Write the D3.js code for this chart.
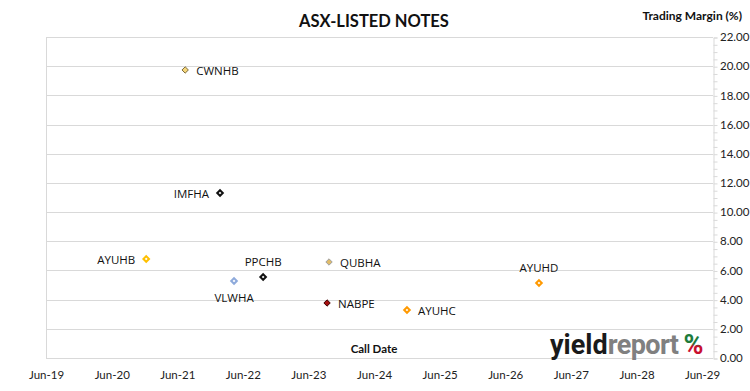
<!DOCTYPE html>
<html>
<head>
<meta charset="utf-8">
<script src="https://cdn.jsdelivr.net/npm/d3@7"></script>
<style>
  body { margin: 0; background: #fff; }
  svg { display: block; }
</style>
</head>
<body>
<div id="chart"></div>
<script>
// data
const notes = ["CWNHB", "IMFHA", "AYUHB", "VLWHA", "PPCHB", "QUBHA", "NABPE", "AYUHC", "AYUHD"];
const callDates = ["2021-07-15", "2022-01-25", "2020-12-10", "2022-04-13", "2022-09-22", "2023-09-24", "2023-09-13", "2024-12-01", "2026-12-06"];
const margins = [19.74, 11.31, 6.79, 5.28, 5.55, 6.58, 3.77, 3.29, 5.14];
const yTickValues = [0, 2, 4, 6, 8, 10, 12, 14, 16, 18, 20, 22];
const xTickDates = ["2019-06-01", "2020-06-01", "2021-06-01", "2022-06-01", "2023-06-01", "2024-06-01",
                    "2025-06-01", "2026-06-01", "2027-06-01", "2028-06-01", "2029-06-01"];

function chart() {
    const width = 750;
    const height = 391;
    const font = "Lato, 'Open Sans', sans-serif";
    const grid = "#d9d9d9";

    // marker style per note
    const markerStyle = {
        CWNHB: { fill: "#f6d67a", stroke: "#7a6a3a", w: 1, size: 26 },
        IMFHA: { fill: "#fff", stroke: "#111", w: 2, size: 20 },
        AYUHB: { fill: "#fff", stroke: "#ffc000", w: 2, size: 20 },
        VLWHA: { fill: "#fff", stroke: "#8eaadb", w: 2, size: 20 },
        PPCHB: { fill: "#fff", stroke: "#111", w: 2, size: 20 },
        QUBHA: { fill: "#e0bc6a", stroke: "#a0a0a0", w: 1, size: 26 },
        NABPE: { fill: "#a50f0f", stroke: "#3a0000", w: 1, size: 26 },
        AYUHC: { fill: "#fff", stroke: "#ff9900", w: 2, size: 20 },
        AYUHD: { fill: "#fff", stroke: "#ff9900", w: 2, size: 20 }
    };
    // where each label sits relative to its marker
    const labelPos = {
        CWNHB: "right", IMFHA: "left", AYUHB: "left", VLWHA: "below", PPCHB: "above",
        QUBHA: "right", NABPE: "right", AYUHC: "right", AYUHD: "above"
    };

    const data = notes.map((n, i) => ({ name: n, date: new Date(callDates[i]), value: margins[i] }));

    const plot = { left: 46, right: 713, top: 37, bottom: 358 };

    const svg = d3.select("#chart")
        .append("svg")
        .attr("width", width)
        .attr("height", height)
        .attr("viewBox", `0 0 ${width} ${height}`)
        .style("font-family", font);

    const x = d3.scaleTime()
        .domain([new Date(2019, 5, 1), new Date(2029, 7, 1)])
        .range([plot.left, plot.right]);

    const y = d3.scaleLinear()
        .domain([0, 22])
        .range([plot.bottom, plot.top]);

    // gridlines
    svg.append("g")
        .selectAll("line")
        .data(yTickValues)
        .join("line")
            .attr("x1", plot.left)
            .attr("x2", plot.right)
            .attr("y1", d => Math.round(y(d)) + 0.5)
            .attr("y2", d => Math.round(y(d)) + 0.5)
            .attr("stroke", grid);

    svg.append("line")
        .attr("x1", plot.left + 0.5).attr("x2", plot.left + 0.5)
        .attr("y1", plot.top).attr("y2", plot.bottom)
        .attr("stroke", grid);

    // right axis, minor ticks
    const minor = svg.append("g")
        .attr("transform", `translate(${plot.right + 0.5},0.5)`)
        .call(d3.axisRight(y).ticks(44).tickSize(4).tickFormat(""));
    minor.select(".domain").attr("stroke", grid);
    minor.selectAll(".tick line").attr("stroke", grid);

    const yAxis = svg.append("g")
        .attr("transform", `translate(${plot.right},0)`)
        .call(d3.axisRight(y).tickValues(yTickValues).tickSize(0).tickPadding(7).tickFormat(d3.format(".2f")));
    yAxis.select(".domain").remove();
    yAxis.selectAll("text")
        .style("font-family", font)
        .style("font-size", "11.5px")
        .attr("fill", "#222");

    // bottom axis labels
    const xAxis = svg.append("g")
        .attr("transform", `translate(0,${plot.bottom})`)
        .call(d3.axisBottom(x).tickValues(xTickDates.map(d => new Date(d + "T00:00:00")))
            .tickSize(0).tickPadding(13).tickFormat(d3.timeFormat("%b-%y")));
    xAxis.select(".domain").remove();
    xAxis.selectAll("text")
        .style("font-family", font)
        .style("font-size", "11.5px")
        .attr("fill", "#222");

    // title & axis titles
    svg.append("text")
        .attr("x", 374).attr("y", 27)
        .attr("text-anchor", "middle")
        .style("font-size", "16.5px").style("font-weight", 700)
        .attr("fill", "#111")
        .text("ASX-LISTED NOTES");

    svg.append("text")
        .attr("x", 742).attr("y", 20)
        .attr("text-anchor", "end")
        .style("font-size", "12px").style("font-weight", 700)
        .attr("fill", "#111")
        .text("Trading Margin (%)");

    svg.append("text")
        .attr("x", 374).attr("y", 353)
        .attr("text-anchor", "middle")
        .style("font-size", "11.5px").style("font-weight", 700)
        .attr("fill", "#111")
        .text("Call Date");

    // logo
    const defs = svg.append("defs");
    const grad = defs.append("linearGradient")
        .attr("id", "pct").attr("x1", 0).attr("x2", 0).attr("y1", 0).attr("y2", 1);
    grad.append("stop").attr("offset", "0%").attr("stop-color", "#1f7a3a");
    grad.append("stop").attr("offset", "45%").attr("stop-color", "#1f7a3a");
    grad.append("stop").attr("offset", "55%").attr("stop-color", "#c8102e");
    grad.append("stop").attr("offset", "100%").attr("stop-color", "#c8102e");

    const logo = svg.append("text")
        .attr("x", 550).attr("y", 354)
        .style("font-family", "'Liberation Sans Narrow', 'Roboto', sans-serif")
        .style("font-size", "27px").style("font-weight", 700);
    logo.append("tspan").attr("fill", "#1a1a1a").text("yield");
    logo.append("tspan").attr("fill", "#808080").style("letter-spacing", "-0.6px").text("report");
    logo.append("tspan").attr("fill", "url(#pct)").attr("dx", 5).text("%");

    // markers
    const gNotes = svg.selectAll(".note")
        .data(data)
        .join("g")
            .attr("class", "note")
            .attr("transform", d => `translate(${x(d.date)},${y(d.value)})`);

    gNotes.append("path")
        .attr("d", d => d3.symbol(d3.symbolDiamond2, markerStyle[d.name].size)())
        .attr("fill", d => markerStyle[d.name].fill)
        .attr("stroke", d => markerStyle[d.name].stroke)
        .attr("stroke-width", d => markerStyle[d.name].w);

    gNotes.append("text")
        .style("font-family", "'Open Sans', sans-serif")
        .style("font-size", "11.5px")
        .attr("fill", "#111")
        .attr("text-anchor", d => ({ right: "start", left: "end", above: "middle", below: "middle" })[labelPos[d.name]])
        .attr("x", d => ({ right: 11, left: -11, above: 0, below: 0 })[labelPos[d.name]])
        .attr("y", d => ({ right: 5, left: 5, above: -11, below: 21 })[labelPos[d.name]])
        .text(d => d.name);
}

chart();
</script>
</body>
</html>
